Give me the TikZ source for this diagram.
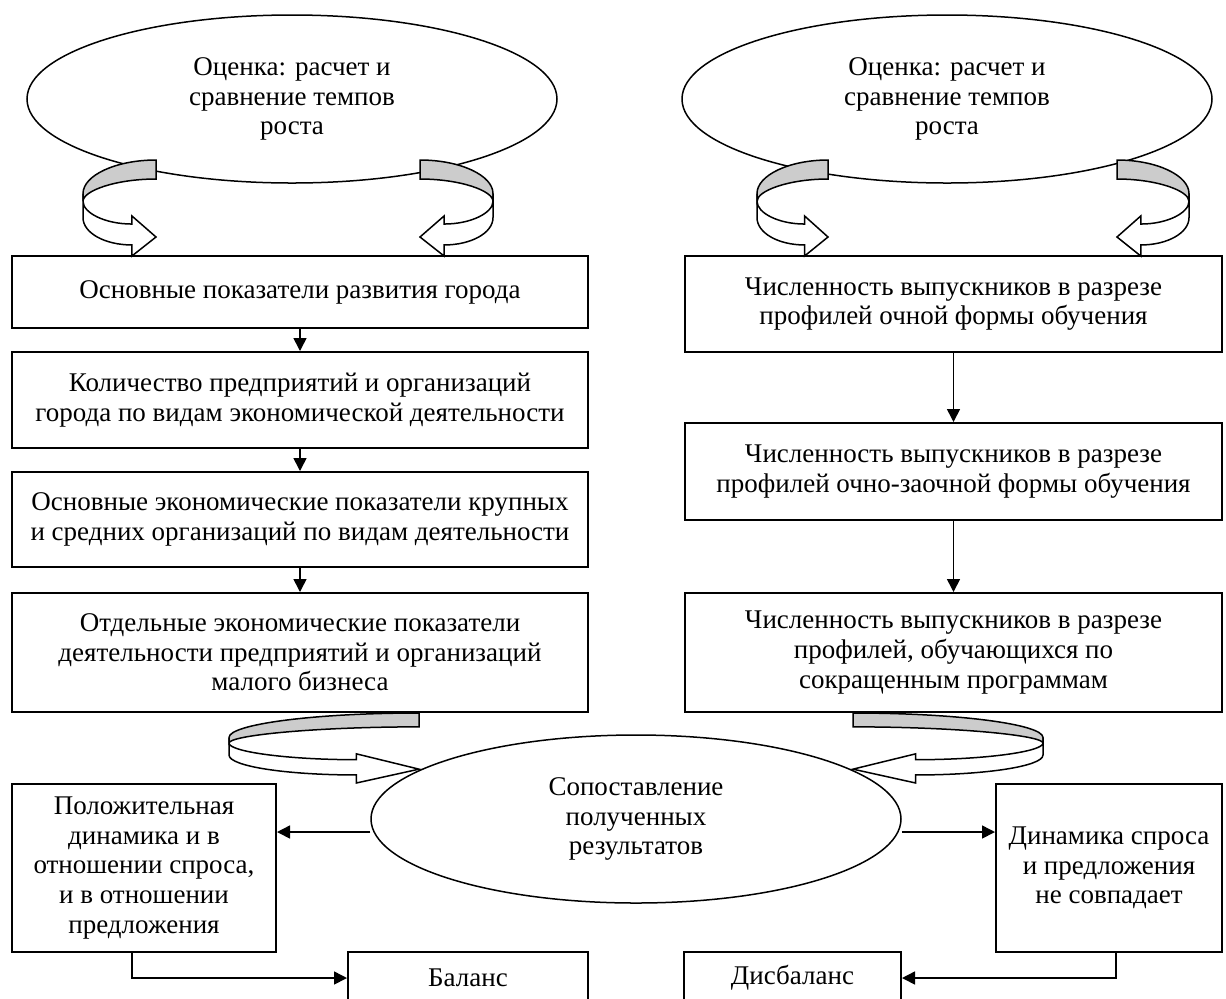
\documentclass[tikz,border=0pt]{standalone}
\usepackage{fontspec}
\setmainfont{Liberation Serif}
\usetikzlibrary{arrows.meta}
\usetikzlibrary{shapes.geometric}
\usetikzlibrary{positioning}

\definecolor{ribbongray}{gray}{0.8}

% curved 3D arrow: origin x, origin y, width (signed), height
\newcommand{\ribbonarrow}[4]{%
    \begin{scope}[shift={(#1,#2)}, xscale=#3, yscale=#4, line width=0.75pt]
        \draw[fill=ribbongray] (0,0) .. controls (-0.55,0) and (-1,0.16) .. (-1,0.35)
            -- (-1,0.43) .. controls (-1,0.32) and (-0.55,0.198) .. (0,0.198) -- cycle;
        \draw[fill=white] (-1,0.35) -- (-1,0.6)
            .. controls (-1,0.76) and (-0.7,0.885) .. (-0.33,0.885)
            -- (-0.33,1) -- (0,0.802) -- (-0.33,0.583) -- (-0.33,0.667)
            .. controls (-0.7,0.667) and (-1,0.55) .. (-1,0.43) -- cycle;
    \end{scope}}

\begin{document}
\begin{tikzpicture}[x=0.5pt, y=-0.5pt,
        txt/.style={font=\fontsize{13.5}{14.8}\selectfont, align=center, inner sep=0pt},
        box/.style={txt, draw, line width=1pt},
        oval/.style={txt, ellipse, draw, line width=0.75pt,
            minimum width=265pt, minimum height=84pt},
        conn/.style={-{Triangle[length=6.5pt,width=6.5pt]}, line width=0.8pt}]
    \useasboundingbox (0,0) rectangle (1226,998);
    \clip (0,0) rectangle (1226,998);

    % Top ovals
    \node[oval] (evalL) at (292,99) {Оценка: расчет и\\сравнение темпов\\роста};
    \node[oval] (evalR) at (947,99) {Оценка: расчет и\\сравнение темпов\\роста};

    % Left column
    \node[box, minimum width=288pt, minimum height=36pt] (city) at (300,292)
        {Основные показатели развития города};
    \node[box, minimum width=288pt, minimum height=48pt] (firms) at (300,400)
        {Количество предприятий и организаций\\города по видам экономической деятельности};
    \node[box, minimum width=288pt, minimum height=47.5pt] (large) at (300,519.5)
        {Основные экономические показатели крупных\\и средних организаций по видам деятельности};
    \node[box, minimum width=288pt, minimum height=59.5pt] (small) at (300,652.5)
        {Отдельные экономические показатели\\деятельности предприятий и организаций\\малого бизнеса};

    % Right column
    \node[box, minimum width=268.5pt, minimum height=48pt] (grad1) at (953.5,304)
        {Численность выпускников в разрезе\\профилей очной формы обучения};
    \node[box, minimum width=268.5pt, minimum height=48.5pt] (grad2) at (953.5,471.5)
        {Численность выпускников в разрезе\\профилей очно-заочной формы обучения};
    \node[box, minimum width=268.5pt, minimum height=59.5pt] (grad3) at (953.5,652.5)
        {Численность выпускников в разрезе\\профилей, обучающихся по\\сокращенным программам};

    % Comparison and results
    \node[oval] (cmp) at (636,819) {Сопоставление\\полученных\\результатов};
    \node[box, minimum width=132pt, minimum height=84pt] (pos) at (144,868)
        {Положительная\\динамика и в\\отношении спроса,\\и в отношении\\предложения};
    \node[box, minimum width=113pt, minimum height=84pt] (neg) at (1109,868)
        {Динамика спроса\\и предложения\\не совпадает};
    \node[box, minimum width=120pt, minimum height=26pt] (bal) at (468,978) {Баланс};
    \node[box, minimum width=108.5pt, minimum height=26pt] (dis) at (792.5,978) {Дисбаланс};

    % Straight connectors
    \draw[conn] (city) -- (firms);
    \draw[conn] (firms) -- (large);
    \draw[conn] (large) -- (small);
    \draw[conn] (grad1) -- (grad2);
    \draw[conn] (grad2) -- (grad3);
    \draw[conn] ([yshift=-6.5pt]cmp.west) -- ([yshift=-6.5pt]cmp.west -| pos.east);
    \draw[conn] ([yshift=-6.5pt]cmp.east) -- ([yshift=-6.5pt]cmp.east -| neg.west);
    \draw[conn] ([xshift=-6pt]pos.south) |- (bal.west);
    \draw[conn] ([xshift=3.5pt]neg.south) |- (dis.east);

    % Ribbon arrows
    \ribbonarrow{156}{160}{73}{96}
    \ribbonarrow{420}{160}{-73}{96}
    \ribbonarrow{828}{160}{71}{96}
    \ribbonarrow{1117}{160}{-72}{96}
    \ribbonarrow{419}{713}{190}{70}
    \ribbonarrow{853}{713}{-190}{70}
\end{tikzpicture}
\end{document}
